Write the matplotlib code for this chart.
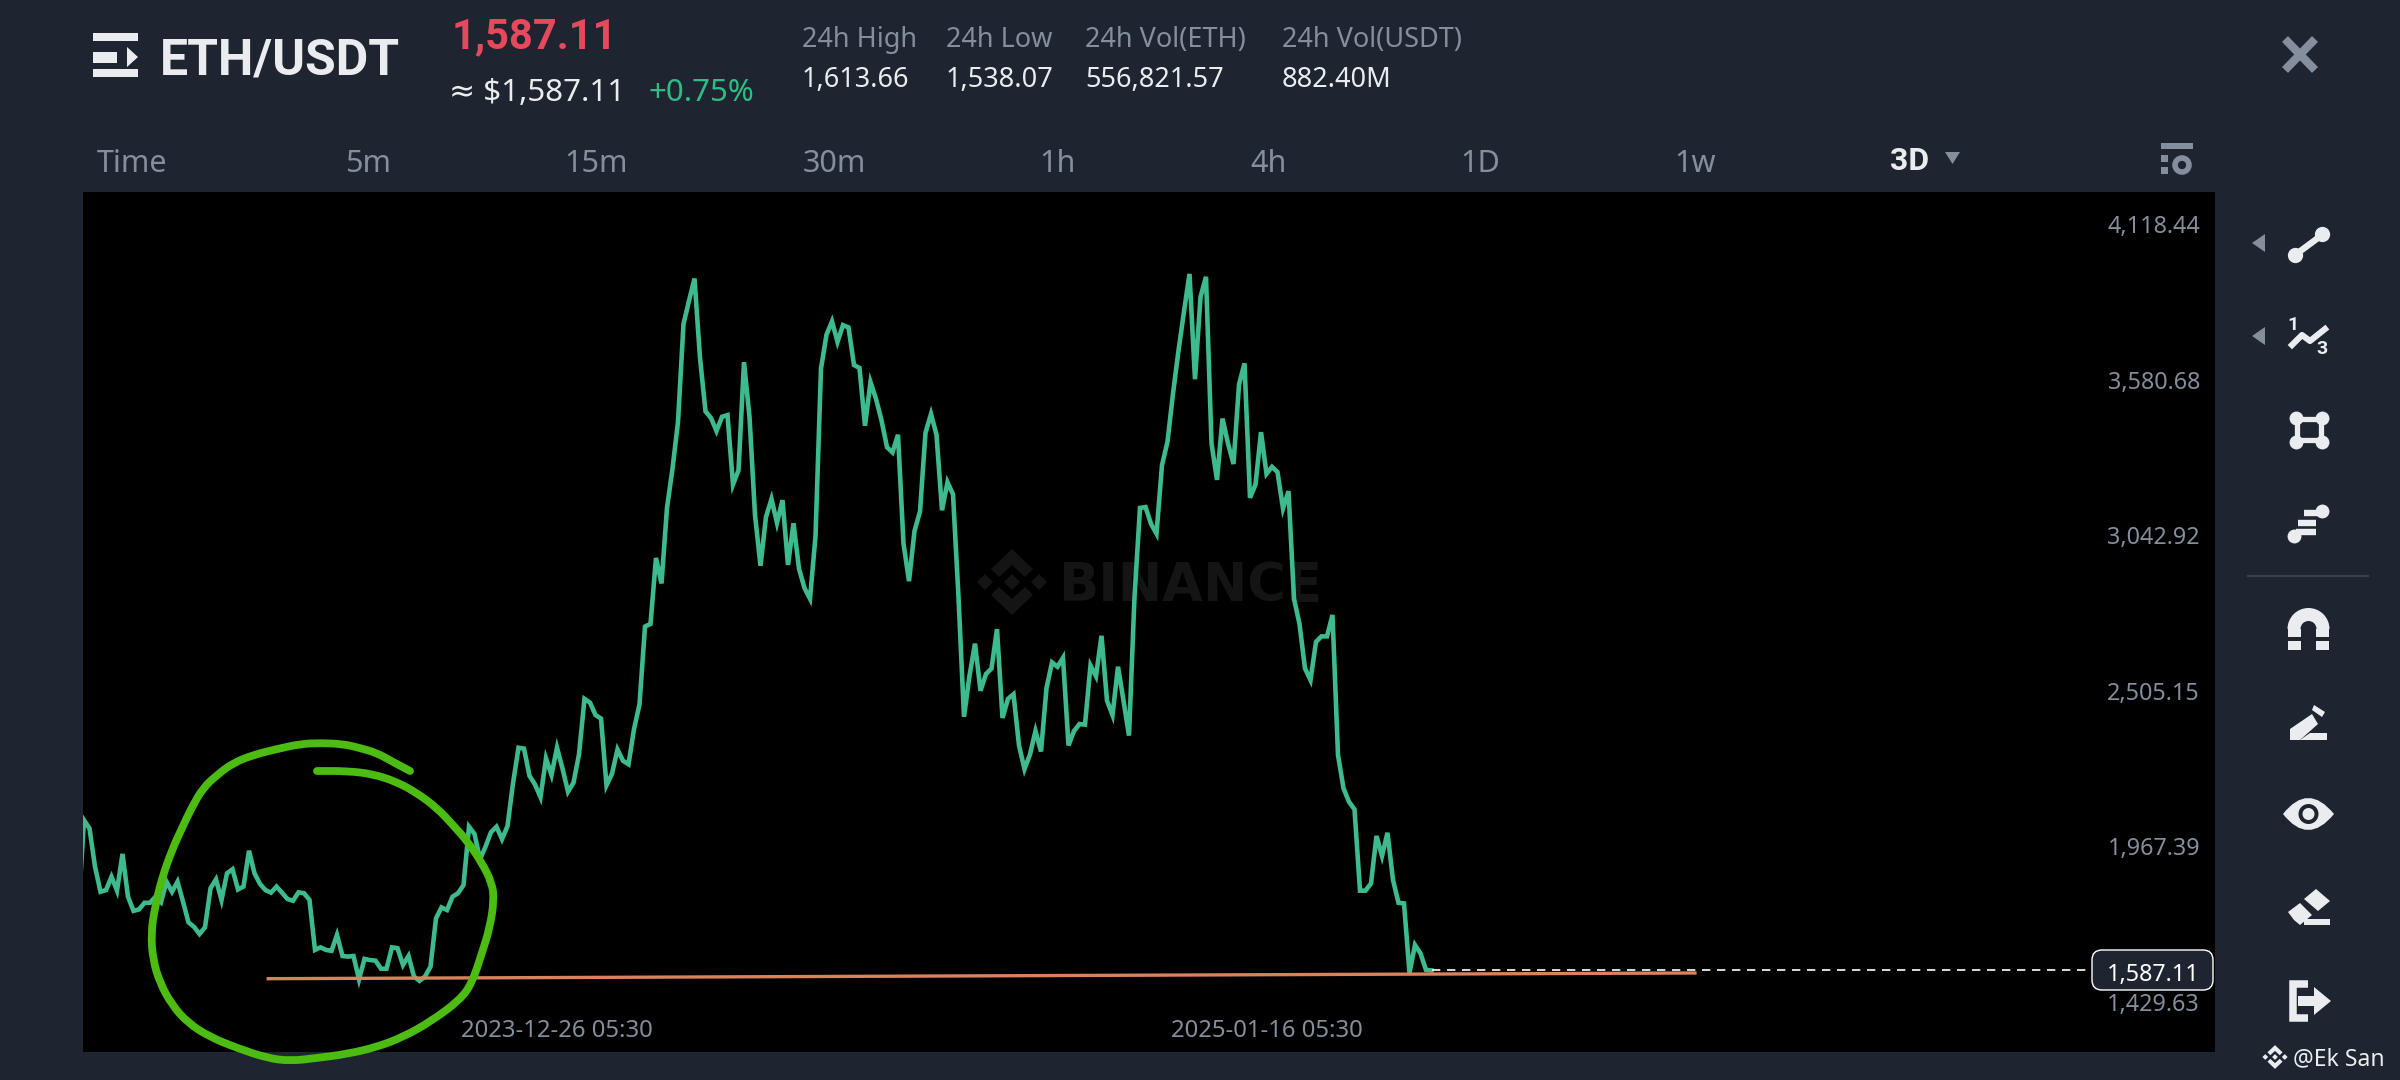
import numpy as np
import matplotlib
matplotlib.use("Agg")
import matplotlib.pyplot as plt
from matplotlib.patches import Polygon, Circle, Wedge, PathPatch, FancyBboxPatch, Rectangle
from matplotlib.path import Path
from matplotlib.transforms import ScaledTranslation

plt.rcParams['font.family'] = ['Noto Sans', 'DejaVu Sans']
BOLD = ['Roboto', 'DejaVu Sans']

# ---------- data ----------
prices = [
    1800, 2107, 2078, 1946, 1859, 1865, 1911, 1863, 1990, 1842, 1793, 1798, 1821, 1821, 1842, 1823, 1894, 1859, 1894,
    1825, 1753, 1738, 1713, 1736, 1871, 1902, 1831, 1923, 1937, 1867, 1877, 2001, 1923, 1886, 1865, 1856, 1877,
    1856, 1834, 1828, 1857, 1854, 1831, 1658, 1667, 1658, 1655, 1710, 1637, 1635, 1637, 1556, 1627, 1623, 1621,
    1593, 1593, 1667, 1664, 1606, 1637, 1566, 1551, 1566, 1600, 1767, 1805, 1796, 1842, 1854, 1882, 2084, 2059,
    1971, 2015, 2065, 2084, 2041, 2086, 2234, 2357, 2354, 2260, 2230, 2186, 2320, 2263, 2357, 2285, 2205, 2236,
    2334, 2526, 2513, 2470, 2458, 2227, 2267, 2351, 2312, 2300, 2421, 2507, 2776, 2785, 3013, 2925, 3186, 3322,
    3483, 3822, 3902, 3979, 3705, 3520, 3497, 3452, 3501, 3507, 3267, 3316, 3690, 3501, 3162, 2986, 3155, 3217,
    3134, 3213, 2989, 3133, 2976, 2909, 2872, 3088, 3668, 3785, 3831, 3760, 3818, 3810, 3680, 3670, 3470, 3621,
    3563, 3489, 3396, 3378, 3439, 3063, 2933, 3106, 3174, 3446, 3511, 3439, 3178, 3275, 3233, 2878, 2464, 2606,
    2717, 2554, 2612, 2631, 2767, 2460, 2526, 2542, 2365, 2283, 2334, 2415, 2344, 2563, 2652, 2637, 2668, 2365,
    2415, 2439, 2437, 2641, 2604, 2744, 2520, 2470, 2637, 2520, 2399, 2878, 3186, 3189, 3131, 3097, 3334, 3415,
    3581, 3730, 3865, 3995, 3631, 3915, 3985, 3409, 3283, 3495, 3409, 3338, 3612, 3686, 3221, 3267, 3448, 3304,
    3328, 3310, 3184, 3244, 2872, 2785, 2631, 2591, 2723, 2742, 2742, 2816, 2332, 2217, 2170, 2144, 1863, 1863,
    1888, 2052, 1983, 2063, 1900, 1821, 1819, 1579, 1675, 1646, 1589, 1587.11,
]
y_ticks = [4118.44, 3580.68, 3042.92, 2505.15, 1967.39, 1429.63]
date_labels = ["2023-12-26 05:30", "2025-01-16 05:30"]
date_index = [86, 215]
last_price = 1587.11
trend_index = [33.5, 292.9]
trend_price = [1558.6, 1578.3]

header_stats = [("24h High", "1,613.66"), ("24h Low", "1,538.07"),
                ("24h Vol(ETH)", "556,821.57"), ("24h Vol(USDT)", "882.40M")]
tabs = ["Time", "5m", "15m", "30m", "1h", "4h", "1D", "1w"]

# hand-drawn circle annotation, screen pixels
circle_px = [(410,771),(393,762),(377,753),(360,748),(343,744),(320,743),(300,744),(277,749),(253,755),(233,763),
             (217,775),(203,788),(192,807),(182,828),(172,850),(162,878),(155,907),(151,933),(153,960),(160,983),
             (172,1005),(188,1023),(210,1037),(237,1048),(267,1058),(290,1061),(317,1058),(347,1054),(377,1047),
             (403,1037),(430,1022),(460,1000),(472,983),(482,953),(490,927),(494,900),(492,883),(482,863),(468,842),
             (453,825),(437,808),(417,793),(397,782),(373,774),(347,771),(317,771)]

# ---------- style ----------
BG = '#1E2530'
GRAY = '#848E9C'
WHITE = '#EAECEF'
LINE = '#3DBB8E'
W, H = 2400, 1080

fig = plt.figure(figsize=(24, 10.8), dpi=100, facecolor=BG)
L, R, T, B = 82.7, 2215, 192, 1052
ax = fig.add_axes([L / W, 1 - B / H, (R - L) / W, (B - T) / H], facecolor='black')
ov = fig.add_axes([0, 0, 1, 1], facecolor='none', zorder=5)
ov.set_xlim(0, W); ov.set_ylim(H, 0); ov.axis('off')

# ---------- chart ----------
x = np.arange(len(prices)) - 1
ax.set_xlim((L - 84) / 5.5, (R - 84) / 5.5)
ax.set_ylim(1429.63 - 36 * 3.457, 1429.63 + 824 * 3.457)
for s in ax.spines.values():
    s.set_visible(False)


def logo(cx, cy, s, color, target, z=1):
    def add(pts):
        p = Polygon([(cx + a * s, cy + b * s) for a, b in pts], closed=True, fc=color, ec='none',
                    transform=ov.transData, zorder=z, clip_on=False)
        target.add_patch(p)
    for dx, dy in [(0, 0), (-27, 0), (27, 0)]:
        add([(dx - 8, dy), (dx, dy - 8), (dx + 8, dy), (dx, dy + 8)])
    top = [(-21, -13), (0, -33), (21, -13), (13, -5), (0, -17), (-13, -5)]
    add(top)
    add([(a, -b) for a, b in top])


logo(1012, 582, 1.0, '#141414', ax)
ax.text(1190, 586, "BINANCE", transform=ov.transData, color='#141414', fontsize=38, fontweight='bold',
        ha='center', va='center', zorder=1, family='DejaVu Sans')

ax.plot(x, prices, color=LINE, lw=3.3, solid_joinstyle='miter', zorder=3)
ax.plot(trend_index, trend_price, color='#D9825B', lw=2.4, zorder=4)
ax.plot([x[-1], (2092 - 84) / 5.5], [last_price, last_price], color='white', lw=1.2,
        dashes=(5, 4), zorder=3.5)

ax.yaxis.tick_right()
ax.set_yticks(y_ticks)
ax.set_yticklabels([f"{v:,.2f}" for v in y_ticks])
ax.tick_params(axis='y', length=0, pad=-10.8, labelcolor=GRAY, labelsize=16.8)
offs = ScaledTranslation(0, 14 / 100, fig.dpi_scale_trans)
for lab in ax.get_yticklabels():
    lab.set_ha('right')
    lab.set_transform(lab.get_transform() + offs)
ax.set_xticks(date_index)
ax.set_xticklabels(date_labels)
ax.tick_params(axis='x', length=0, pad=-24, labelcolor=GRAY, labelsize=17.2)

# last price box
ov.add_patch(FancyBboxPatch((2092, 950), 121, 40, boxstyle="round,pad=0,rounding_size=10", fc=BG, ec='white',
                            lw=1.0, zorder=6))
ov.text(2200, 975, f"{last_price:,.2f}", color='white', fontsize=16.8, ha='right', va='center', zorder=7)

# circle annotation: quadratic smoothing through the drawn points
verts = [circle_px[0]]
codes = [Path.MOVETO]
for a, b in zip(circle_px[1:-1], circle_px[2:]):
    verts += [a, ((a[0] + b[0]) / 2, (a[1] + b[1]) / 2)]
    codes += [Path.CURVE3, Path.CURVE3]
verts.append(circle_px[-1]); codes.append(Path.LINETO)
ov.add_patch(PathPatch(Path(verts, codes), fc='none', ec='#4CBB12', lw=5.6, capstyle='round', joinstyle='round', zorder=8))

# ---------- header ----------
for y0, y1 in [(33, 41), (69, 77)]:
    ov.add_patch(Rectangle((93, y0), 45, y1 - y0, fc=WHITE, ec='none'))
ov.add_patch(Rectangle((93, 52), 24, 11, fc=WHITE, ec='none'))
ov.add_patch(Polygon([(127, 47), (138, 57), (127, 67)], fc=WHITE, ec='none'))

ov.text(160, 61, "ETH/USDT", color=WHITE, fontsize=36, fontweight='bold', va='center', ha='left', family=BOLD)
ov.text(452, 37, "1,587.11", color='#E5495B', fontsize=30, fontweight='bold', va='center', ha='left', family=BOLD)
ov.text(449, 93, "≈ $1,587.11", color=WHITE, fontsize=22.5, va='center', ha='left')
ov.text(648, 93, "+0.75%", color='#2EBD85', fontsize=22.5, va='center', ha='left')

stat_x = [802, 946, 1085, 1282]
for (h, v), sx in zip(header_stats, stat_x):
    ov.text(sx, 40, h, color=GRAY, fontsize=19.5, va='center', ha='left')
    ov.text(sx, 80, v, color=WHITE, fontsize=19.5, va='center', ha='left')

tab_x = [97, 345, 564, 803, 1039, 1250, 1460, 1674]
for t, tx in zip(tabs, tab_x):
    ov.text(tx, 164, t, color=GRAY, fontsize=22, va='center', ha='left')
ov.text(1890, 161, "3D", color=WHITE, fontsize=23, fontweight='bold', va='center', ha='left', family=BOLD)
ov.add_patch(Polygon([(1945, 152), (1960, 152), (1952.5, 164)], fc=GRAY, ec='none'))

# settings icon
ov.add_patch(Rectangle((2161, 143), 32, 6, fc=GRAY, ec='none'))
ov.add_patch(Rectangle((2161, 155), 7, 7, fc=GRAY, ec='none'))
ov.add_patch(Rectangle((2161, 167), 7, 7, fc=GRAY, ec='none'))
ov.add_patch(Circle((2182, 165), 7, fc='none', ec=GRAY, lw=4))

# close
ov.plot([2285, 2315], [39, 70], color=GRAY, lw=6, solid_capstyle='butt')
ov.plot([2315, 2285], [39, 70], color=GRAY, lw=6, solid_capstyle='butt')

# ---------- toolbar ----------
def dots(pts, ms=11):
    ov.plot(*zip(*pts), ls='none', marker='o', ms=ms, color=WHITE, mew=0)


for ty in (243, 336):
    ov.add_patch(Polygon([(2265, ty - 9), (2265, ty + 9), (2252, ty)], fc=GRAY, ec='none'))
ov.plot([2295, 2322], [255, 235], color=WHITE, lw=4.6)
dots([(2295, 255), (2322, 234)])

ov.text(2293, 325, "1", color=WHITE, fontsize=14, fontweight='bold', ha='center', va='center', family=BOLD)
ov.text(2322, 349, "3", color=WHITE, fontsize=14, fontweight='bold', ha='center', va='center', family=BOLD)
ov.plot([2292, 2302, 2310, 2325], [345, 335, 341, 329], color=WHITE, lw=4.4)

ov.add_patch(Rectangle((2297, 419), 24, 21, fc='none', ec=WHITE, lw=3.8))
dots([(2296, 418), (2322, 418), (2296, 442), (2322, 442)], ms=10)

for yy, x0, x1 in [(513, 2304, 2322), (523, 2298, 2316), (532, 2296, 2316)]:
    ov.plot([x0, x1], [yy, yy], color=WHITE, lw=4.6, solid_capstyle='butt')
dots([(2322, 511), (2294, 536)], ms=10)
ov.plot([2248, 2368], [576, 576], color='#3A404B', lw=1.6)

# magnet
ov.add_patch(Wedge((2308.5, 629), 21, 180, 360, width=13, fc=WHITE, ec='none'))
for xx in (2288, 2316):
    ov.add_patch(Rectangle((xx, 629), 13, 8, fc=WHITE, ec='none'))
    ov.add_patch(Rectangle((xx, 641), 13, 9, fc=WHITE, ec='none'))

# pencil
ov.add_patch(Polygon([(2290, 740), (2290, 729), (2312, 714), (2318, 724), (2300, 740)], fc=WHITE, ec='none'))
ov.add_patch(Polygon([(2314, 705), (2325, 712), (2322, 717), (2312, 710)], fc=WHITE, ec='none'))
ov.add_patch(Polygon([(2300, 740), (2327, 740), (2327, 733), (2310, 733)], fc=WHITE, ec='none'))

# eye
eye = Path([(2283, 814), (2308, 782), (2334, 814), (2308, 846), (2283, 814)],
           [Path.MOVETO, Path.CURVE3, Path.CURVE3, Path.CURVE3, Path.CURVE3])
ov.add_patch(PathPatch(eye, fc=WHITE, ec='none'))
ov.add_patch(Circle((2308.5, 814), 10, fc=BG, ec='none'))
ov.add_patch(Circle((2308.5, 814), 6, fc=WHITE, ec='none'))

# eraser
ov.add_patch(Polygon([(2288, 912), (2300, 903), (2312, 915), (2300, 925), (2294, 920)], fc=WHITE, ec='none'))
ov.add_patch(Polygon([(2304, 899), (2316, 889), (2330, 901), (2318, 911)], fc=WHITE, ec='none'))
ov.add_patch(Rectangle((2304, 919), 26, 6, fc=WHITE, ec='none'))

# exit
ov.plot([2308, 2293, 2293, 2308], [984, 984, 1018, 1018], color=WHITE, lw=5.4, solid_joinstyle='miter', solid_capstyle='butt')
ov.add_patch(Polygon([(2298, 996), (2314, 996), (2314, 987), (2331, 1001), (2314, 1015), (2314, 1006), (2298, 1006)],
                     fc=WHITE, ec='none'))

# credit
logo(2275, 1057, 0.36, WHITE, ov, z=6)
ov.text(2293, 1059, "@Ek San", color=WHITE, fontsize=16.5, va='center', ha='left')

fig.savefig("out.png", dpi=100, facecolor=BG)
